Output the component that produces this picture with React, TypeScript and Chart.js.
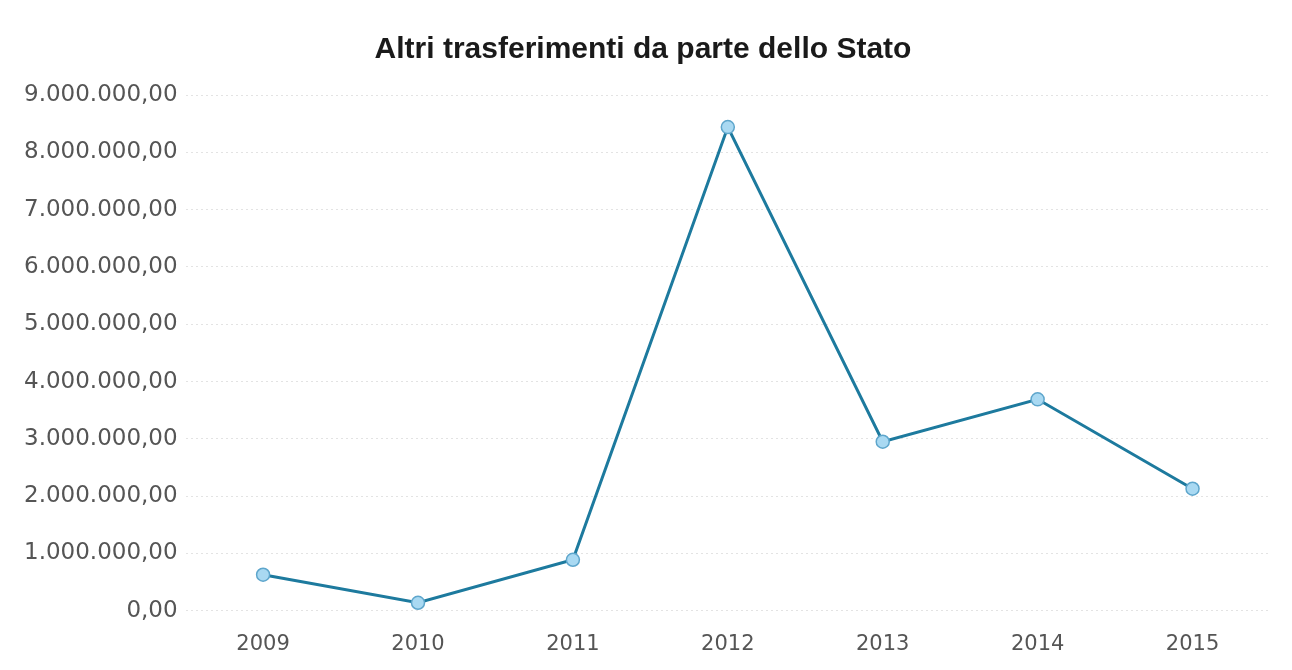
import React, { useEffect, useRef } from "react";
import { Chart, registerables } from "chart.js";

Chart.register(...registerables);

const years = ["2009", "2010", "2011", "2012", "2013", "2014", "2015"];
const values = [630000, 140000, 890000, 8440000, 2950000, 3690000, 2130000];
const yTickMax = 9000000;
const yTickStep = 1000000;
const titleText = "Altri trasferimenti da parte dello Stato";

function fmt(v: number): string {
  const fixed = Math.abs(v).toFixed(2);
  const [intPart, dec] = fixed.split(".");
  const withDots = intPart.replace(/\B(?=(\d{3})+(?!\d))/g, ".");
  return (v < 0 ? "-" : "") + withDots + "," + dec;
}

export default function App() {
  const ref = useRef<HTMLCanvasElement | null>(null);
  useEffect(() => {
    if (!ref.current) return;
    const chart = new Chart(ref.current, {
      type: "line",
      data: {
        labels: years,
        datasets: [
          {
            data: values,
            borderColor: "#1d7a9e",
            borderWidth: 3,
            pointRadius: 6.5,
            pointBorderWidth: 1.5,
            pointBackgroundColor: "#a9d9f2",
            pointBorderColor: "#5ea6cc",
            tension: 0,
          },
        ],
      },
      options: {
        animation: false,
        responsive: false,
        maintainAspectRatio: false,
        layout: { padding: { top: 26, left: 16, right: 22, bottom: 0 } },
        plugins: {
          legend: { display: false },
          tooltip: { enabled: false },
          title: {
            display: true,
            text: titleText,
            color: "#1a1a1a",
            font: { family: "'Liberation Sans', Arial, sans-serif", size: 30, weight: "bold" },
            padding: { top: 6, bottom: 27 },
          },
        },
        scales: {
          x: {
            offset: true,
            grid: { display: false },
            border: { display: false },
            ticks: {
              color: "#555555",
              font: { family: "'DejaVu Sans', sans-serif", size: 21 },
              padding: 13,
            },
          },
          y: {
            min: 0,
            max: yTickMax,
            grid: { color: "#e3e3e3", lineWidth: 1, drawTicks: false },
            border: { display: false, dash: [2, 3] },
            ticks: {
              stepSize: yTickStep,
              color: "#555555",
              font: { family: "'DejaVu Sans', sans-serif", size: 23 },
              padding: 8,
              callback: (v: any) => fmt(Number(v)),
            },
          },
        },
      },
    });
    return () => chart.destroy();
  }, []);
  return (
    <div style={{ position: "fixed", left: 0, top: 0, width: 1292, height: 670, background: "#fff" }}>
      <canvas ref={ref} width={1292} height={670} style={{ display: "block" }} />
    </div>
  );
}
